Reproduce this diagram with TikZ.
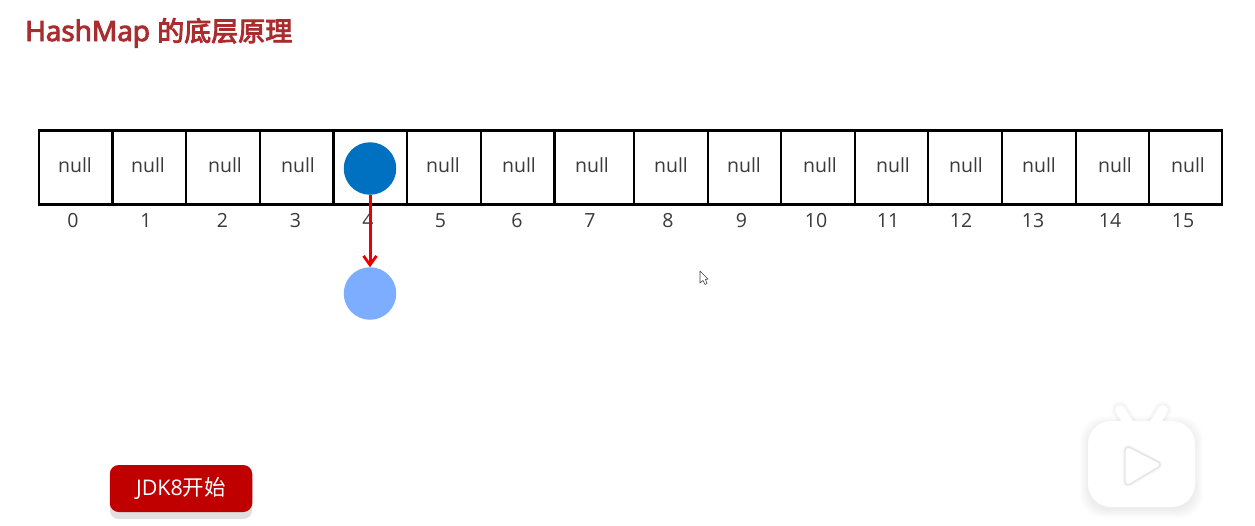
\documentclass[tikz,border=0pt]{standalone}
\usepackage{fontspec}
\setmainfont{Open Sans}
\newfontfamily\cjk{Noto Sans CJK SC}
\newfontfamily\titlelatin[FakeBold=3.5]{Open Sans}
\newfontfamily\titlecjk[FakeBold=3.5]{Noto Sans CJK SC}
\usetikzlibrary{arrows.meta}
\definecolor{titlered}{HTML}{A92C2E}
\definecolor{nodeblue}{HTML}{0070C0}
\definecolor{lightblue}{HTML}{7DADFF}
\definecolor{btnred}{HTML}{C00000}
\definecolor{txt}{HTML}{3A3A3A}
\tikzset{
  cellbox/.style={draw=black,line width=2.7pt,rectangle,inner sep=0pt,outer sep=0pt},
  celltext/.style={text=txt,font=\fontsize{19.5}{20}\selectfont,inner sep=0pt,anchor=base},
  idx/.style={text=txt,font=\fontsize{19.5}{20}\selectfont,inner sep=0pt,anchor=base},
  ball/.style={circle,inner sep=0pt,outer sep=0pt,minimum size=52.5pt},
  link/.style={draw=red!92!black,line width=3pt,-{Straight Barb[length=9pt,width=13pt,line width=2.8pt]}},
  button/.style={rectangle,rounded corners=9pt,inner sep=0pt,outer sep=0pt,minimum width=142.5pt,minimum height=47pt},
  btntext/.style={text=white,font=\fontsize{21.5}{24}\selectfont,inner sep=0pt},
  titletext/.style={text=titlered,font=\fontsize{28}{30}\selectfont,inner sep=0pt,anchor=base west},
  iconshadow/.style={fill=black,fill opacity=0.009,line join=round,rounded corners=23pt}
}
\begin{document}
\begin{tikzpicture}[x=1pt,y=-1pt]
\useasboundingbox (0,0) rectangle (1255,525);
\fill[white] (0,0) rectangle (1255,525);
\node[titletext] (title) at (25,41) {{\titlelatin HashMap} {\titlecjk\fontsize{27}{30}\selectfont 的底层原理}};
% cells
\foreach \n/\a/\b in {0/39/112.5,1/112.5/186,2/186/260,3/260/333.5,4/333.5/407,5/407/481,6/481/554.5,7/554.5/634,8/634/708,9/708/781,10/781/855,11/855/928,12/928/1002,13/1002/1076,14/1076/1149,15/1149/1222}{
  \pgfmathsetmacro\w{\b-\a}
  \pgfmathsetmacro\m{(\a+\b)/2}
  \node[cellbox,minimum width=\w pt,minimum height=74pt] (cell\n) at (\m,167.5) {};
}
\foreach \n/\x in {0/75,1/148,2/225,3/298,5/443,6/519,7/592,8/671,9/744,10/820,11/893,12/966,13/1039,14/1115,15/1188}{
  \node[celltext] (nul\n) at (\x,172) {null};
}
\foreach \n/\x in {0/73,1/146,2/222.5,3/295.5,4/368,5/440.5,6/517,7/590,8/668,9/741.5,10/816,11/888,12/961,13/1033,14/1110,15/1183}{
  \node[idx] (lab\n) at (\x,227) {\n};
}
\node[ball,fill=nodeblue] (head) at (370,168.5) {};
\node[ball,fill=lightblue] (next) at (370,293.5) {};
\draw[link] (head.south) -- (next.north);
% button
\node[button,fill=black!12] (btnshadow) at (181,495.5) {};
\node[button,fill=btnred] (btn) at (181,488.5) {};
\node[btntext] (btnlabel) at (181,488) {JDK8{\cjk 开始}};
% cursor
\draw[black!75,fill=white,line width=0.6pt,line join=round] (700,271) -- (700,283) -- (703,280.5) -- (705,284.5) -- (707,283.5) -- (705.5,279.5) -- (708,279) -- cycle;
% icon shadow
\foreach \d in {0,1,...,8}{
  \fill[iconshadow] (1088-\d,421-\d+3) rectangle (1195+\d,507+\d+3);
}
\foreach \d in {0,1,...,4}{
  \draw[black,opacity=0.01,line width=10pt+\d*2pt,line cap=round] (1120,410) -- (1129,424);
  \draw[black,opacity=0.01,line width=10pt+\d*2pt,line cap=round] (1163,410) -- (1154,424);
}
% icon
\draw[white,line width=10pt,line cap=round] (1120,410) -- (1129,424);
\draw[white,line width=10pt,line cap=round] (1163,410) -- (1154,424);
\fill[white,rounded corners=23pt] (1088,421) rectangle (1195,507);
\draw[black!4,line width=3.8pt,line join=round,rounded corners=6pt] (1125,445) -- (1163,464.5) -- (1125,487) -- cycle;
\draw[black!10,fill=white,line width=1.4pt,line join=round,rounded corners=6pt] (1125,445) -- (1163,464.5) -- (1125,487) -- cycle;
\end{tikzpicture}
\end{document}
